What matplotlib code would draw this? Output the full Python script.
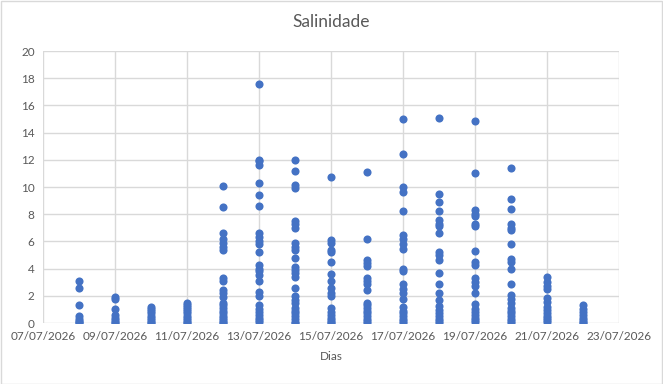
import datetime
import matplotlib
matplotlib.use('Agg')
import matplotlib.pyplot as plt
from matplotlib.patches import Rectangle

# leituras de salinidade por dia
dias = ['08/07/2026', '09/07/2026', '10/07/2026', '11/07/2026', '12/07/2026',
        '13/07/2026', '14/07/2026', '15/07/2026', '16/07/2026', '17/07/2026',
        '18/07/2026', '19/07/2026', '20/07/2026', '21/07/2026', '22/07/2026']

sal_08 = [3.1, 2.55, 1.3, 0.5, 0.3, 0.15, 0.05, 0.0]
sal_09 = [1.9, 1.8, 1.0, 0.6, 0.4, 0.25, 0.1, 0.0]
sal_10 = [1.2, 1.0, 0.85, 0.7, 0.55, 0.4, 0.25, 0.1, 0.0]
sal_11 = [1.45, 1.3, 1.15, 1.0, 0.85, 0.7, 0.55, 0.4, 0.25, 0.1, 0.0]
sal_12 = [10.1, 8.5, 6.6, 6.2, 5.9, 5.6, 5.4, 3.3, 3.1, 2.4, 2.2, 1.9,
          1.5, 1.3, 1.1, 0.9, 0.7, 0.5, 0.35, 0.2, 0.1, 0.0]
sal_13 = [17.6, 12.0, 11.9, 11.6, 10.3, 9.4, 8.6, 6.65, 6.35, 6.0, 5.8, 5.2,
          4.25, 4.0, 3.8, 3.5, 3.1, 2.3, 1.95, 1.3, 1.0, 0.8, 0.6, 0.4, 0.2, 0.05]
sal_14 = [12.0, 11.2, 10.15, 9.9, 7.5, 7.3, 7.0, 5.9, 5.6, 5.35, 4.8, 4.15,
          3.9, 3.7, 3.35, 2.6, 1.95, 1.7, 1.45, 1.1, 0.9, 0.7, 0.5, 0.3, 0.1, 0.0]
sal_15 = [10.7, 6.1, 5.9, 5.35, 5.2, 4.45, 3.6, 3.1, 2.55, 2.2, 1.95, 1.1,
          0.8, 0.6, 0.4, 0.25, 0.1, 0.0]
sal_16 = [11.1, 6.2, 4.6, 4.4, 4.2, 3.3, 3.1, 2.9, 2.4, 1.5, 1.3, 1.1, 0.9,
          0.7, 0.5, 0.3, 0.15, 0.0]
sal_17 = [15.0, 12.4, 10.0, 9.6, 8.2, 6.5, 6.15, 5.8, 5.45, 3.95, 3.8, 2.9,
          2.5, 2.2, 1.8, 1.2, 0.9, 0.7, 0.5, 0.3, 0.15, 0.0]
sal_18 = [15.05, 9.5, 8.9, 8.25, 7.6, 7.3, 7.1, 6.65, 5.25, 5.0, 4.6, 3.7,
          2.9, 2.2, 1.7, 1.25, 0.95, 0.7, 0.5, 0.3, 0.15, 0.0]
sal_19 = [14.85, 11.05, 8.3, 8.0, 7.85, 7.25, 7.15, 5.3, 4.5, 4.3, 3.3, 3.0,
          2.7, 2.2, 1.4, 1.0, 0.8, 0.6, 0.4, 0.2, 0.05]
sal_20 = [11.4, 9.15, 8.35, 7.3, 7.0, 6.85, 5.8, 4.7, 4.5, 4.0, 2.9, 2.05,
          1.8, 1.5, 1.1, 0.9, 0.7, 0.5, 0.3, 0.15, 0.0]
sal_21 = [3.4, 3.0, 2.75, 2.5, 1.85, 1.55, 1.2, 0.95, 0.75, 0.55, 0.35, 0.2, 0.05]
sal_22 = [1.3, 1.0, 0.8, 0.6, 0.4, 0.25, 0.1, 0.0]

salinidade = [sal_08, sal_09, sal_10, sal_11, sal_12, sal_13, sal_14, sal_15,
              sal_16, sal_17, sal_18, sal_19, sal_20, sal_21, sal_22]

ticks_x = ['07/07/2026', '09/07/2026', '11/07/2026', '13/07/2026', '15/07/2026',
           '17/07/2026', '19/07/2026', '21/07/2026', '23/07/2026']

plt.rcParams['font.family'] = ['Lato', 'DejaVu Sans']
cinza = '#595959'
azul = '#4472C4'

fig = plt.figure(figsize=(6.63, 3.84), dpi=100)
ax = fig.add_axes([43 / 663, 1 - 323 / 384, 576 / 663, 272 / 384])

for d, vals in zip(dias, salinidade):
    dt = datetime.datetime.strptime(d, '%d/%m/%Y')
    ax.scatter([dt] * len(vals), vals, s=34, color=azul, zorder=3, linewidths=0)

tick_dates = [datetime.datetime.strptime(t, '%d/%m/%Y') for t in ticks_x]
ax.set_xlim(tick_dates[0], tick_dates[-1])
ax.set_xticks(tick_dates)
ax.set_xticklabels(ticks_x)
ax.set_ylim(0, 20)
ax.set_yticks(range(0, 21, 2))

ax.grid(True, color='#d9d9d9', linewidth=1)
ax.set_axisbelow(True)
for s in ax.spines.values():
    s.set_visible(False)
ax.tick_params(length=0, labelsize=8.5, colors=cinza, pad=6)

ax.set_title('Salinidade', fontsize=12.5, color=cinza, pad=17)
ax.set_xlabel('Dias', fontsize=8.5, color=cinza, labelpad=6)

fig.patches.append(Rectangle((0.001, 0.001), 0.997, 0.996, transform=fig.transFigure,
                             fill=False, edgecolor='#d9d9d9', linewidth=1))

fig.savefig('out.png', dpi=100)
